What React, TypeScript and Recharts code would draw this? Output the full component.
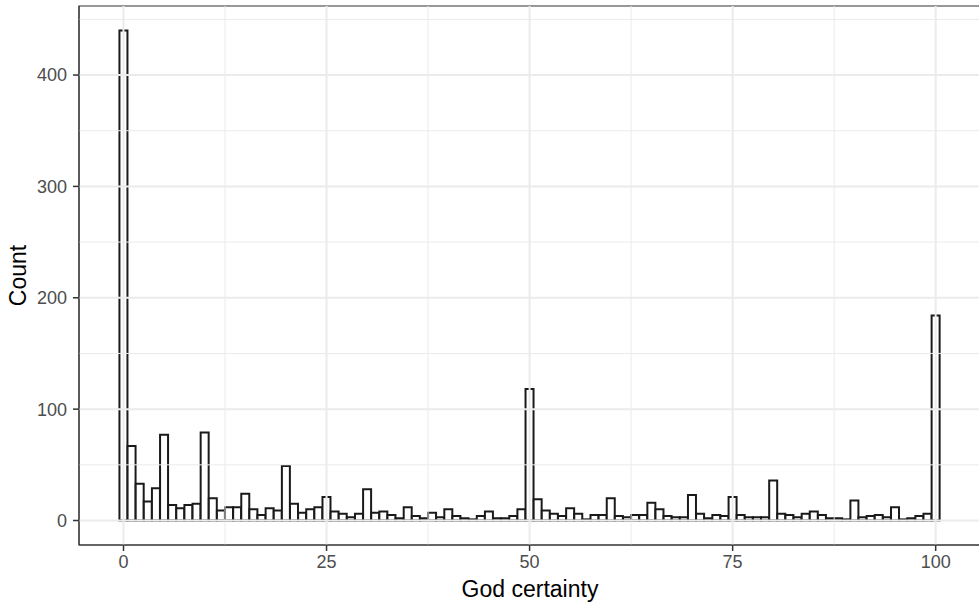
import {
  ComposedChart,
  Bar,
  XAxis,
  YAxis,
  ReferenceLine,
  ReferenceArea,
} from "recharts";

// counts per 1-point bin of "God certainty" (0..100)
const counts: number[] = [
  440, 67, 33, 17, 29, 77, 14, 11, 14, 15,
  79, 20, 9, 12, 12, 24, 10, 5, 11, 9,
  49, 15, 7, 10, 12, 21, 8, 6, 3, 6,
  28, 7, 8, 5, 2, 12, 4, 2, 7, 3,
  10, 4, 2, 1, 4, 8, 2, 2, 4, 10,
  118, 19, 9, 6, 4, 11, 6, 1, 5, 5,
  20, 4, 3, 5, 5, 16, 10, 4, 3, 3,
  23, 6, 2, 5, 4, 21, 5, 3, 3, 3,
  36, 6, 5, 3, 6, 8, 5, 2, 2, 1,
  18, 3, 4, 5, 3, 12, 1, 2, 4, 6,
  184,
];

const xTicks = [0, 25, 50, 75, 100];
const xMinor = [12.5, 37.5, 62.5, 87.5];
const yTicks = [0, 100, 200, 300, 400];
const yMinor = [50, 150, 250, 350, 450];

const xDomain: [number, number] = [-5.48, 105.58];
const yDomain: [number, number] = [-22, 462];

const data = counts.map((count, i) => ({ certainty: i, count }));

const FONT = "'Liberation Sans', Arial, Helvetica, sans-serif";

export default function App() {
  return (
    <div
      style={{
        position: "absolute",
        left: 0,
        top: 0,
        width: 979,
        height: 606,
        overflow: "hidden",
        background: "#fff",
      }}
    >
      <ComposedChart
        width={981}
        height={606}
        data={data}
        barCategoryGap={0}
        barGap={0}
        margin={{ top: 6, right: 0, bottom: 0, left: 0 }}
        style={{ fontFamily: FONT }}
      >
        {xMinor.map((v) => (
          <ReferenceLine key={"xm" + v} x={v} stroke="#EBEBEB" strokeWidth={1} />
        ))}
        {yMinor.map((v) => (
          <ReferenceLine key={"ym" + v} y={v} stroke="#EBEBEB" strokeWidth={1} />
        ))}
        {xTicks.map((v) => (
          <ReferenceLine key={"x" + v} x={v} stroke="#EBEBEB" strokeWidth={2} />
        ))}
        {yTicks.map((v) => (
          <ReferenceLine key={"y" + v} y={v} stroke="#EBEBEB" strokeWidth={2} />
        ))}
        <XAxis
          dataKey="certainty"
          type="number"
          domain={xDomain}
          allowDataOverflow
          ticks={xTicks}
          height={61}
          tickSize={6}
          tickLine={{ stroke: "#333333", strokeWidth: 1.5 }}
          axisLine={{ stroke: "#333333", strokeWidth: 1 }}
          tick={{ fill: "#4D4D4D", fontSize: 18, fontFamily: FONT }}
          tickMargin={4}
          label={{
            value: "God certainty",
            position: "insideBottom",
            offset: 9,
            fill: "#000",
            fontSize: 23,
            fontFamily: FONT,
          }}
        />
        <YAxis
          type="number"
          domain={yDomain}
          allowDataOverflow
          ticks={yTicks}
          width={79}
          tickSize={6}
          tickLine={{ stroke: "#333333", strokeWidth: 1.5 }}
          axisLine={{ stroke: "#333333", strokeWidth: 1 }}
          tick={{ fill: "#4D4D4D", fontSize: 18, fontFamily: FONT }}
          tickMargin={6}
          label={{
            value: "Count",
            angle: -90,
            position: "insideLeft",
            offset: 18,
            style: { textAnchor: "middle" },
            fill: "#000",
            fontSize: 23,
            fontFamily: FONT,
          }}
        />
        <Bar
          dataKey="count"
          fill="#FFFFFF"
          stroke="#1A1A1A"
          strokeWidth={2}
          isAnimationActive={false}
        />
        <ReferenceArea
          x1={xDomain[0]}
          x2={xDomain[1]}
          y1={yDomain[0]}
          y2={yDomain[1]}
          fill="none"
          fillOpacity={0}
          stroke="#333333"
          strokeWidth={1.2}
          ifOverflow="visible"
        />
      </ComposedChart>
    </div>
  );
}
